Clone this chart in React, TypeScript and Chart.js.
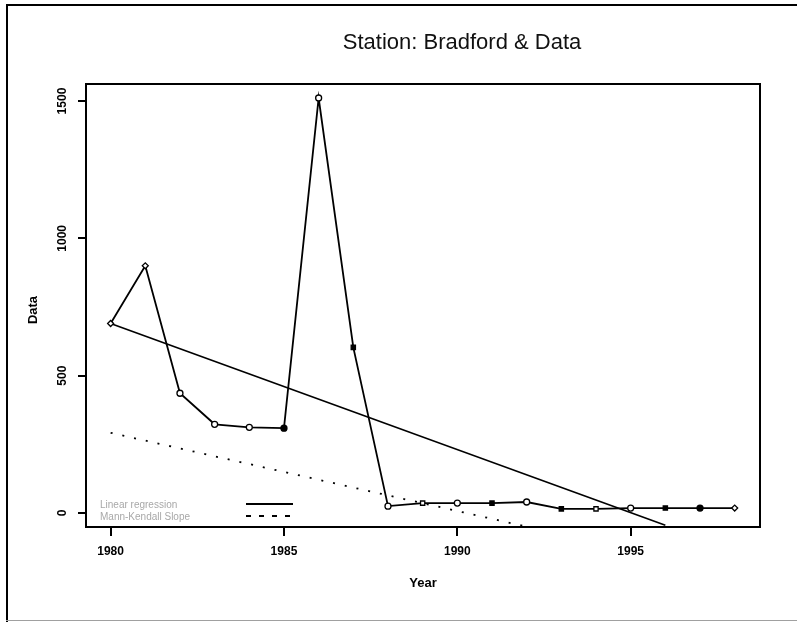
import React, { useEffect, useRef } from 'react';
import { Chart, registerables } from 'chart.js';

Chart.register(...registerables);

// ---- data ----
const years = [1980, 1981, 1982, 1983, 1984, 1985, 1986, 1987, 1988, 1989, 1990, 1991, 1992, 1993, 1994, 1995, 1996, 1997, 1998];
const values = [690, 900, 436, 323, 312, 309, 1511, 603, 25, 36, 36, 36, 40, 15, 15, 18, 18, 18, 18];
const markerShapes = ['rectRot', 'rectRot', 'circle', 'circle', 'circle', 'circle', 'circle', 'rect', 'circle', 'rect', 'circle', 'rect', 'circle', 'rect', 'rect', 'circle', 'rect', 'circle', 'rectRot'];
const markerFilled = [false, false, false, false, false, true, false, true, false, false, false, true, false, true, false, false, true, true, false];

const regressionYears = [1980, 1996];
const regressionValues = [690, -45];
const mannKendallYears = [1980, 1992.5];
const mannKendallValues = [292, -64];

const xTickValues = [1980, 1985, 1990, 1995];
const yTickValues = [0, 500, 1000, 1500];

const titleText = 'Station: Bradford & Data';
const xTitle = 'Year';
const yTitle = 'Data';
const legendLabels = ['Linear regression', 'Mann-Kendall Slope'];

const FONT = '"Liberation Sans", Arial, sans-serif';

const decorPlugin = {
  id: 'decor',
  afterDraw(chart: any) {
    const ctx = chart.ctx;
    const area = chart.chartArea;
    const yScale = chart.scales.y;
    ctx.save();
    // page frame
    ctx.fillStyle = '#000';
    ctx.fillRect(6, 4, 2, 618);
    ctx.fillRect(6, 4, 791, 2);
    ctx.fillStyle = '#a0a0a0';
    ctx.fillRect(6, 620, 791, 1);

    // plot box
    ctx.strokeStyle = '#000';
    ctx.lineWidth = 2;
    ctx.strokeRect(area.left, area.top, area.right - area.left, area.bottom - area.top);

    // title
    ctx.fillStyle = '#111';
    ctx.font = `22px ${FONT}`;
    ctx.textAlign = 'center';
    ctx.textBaseline = 'middle';
    ctx.fillText(titleText, 462, 43);

    // y tick labels (rotated)
    ctx.font = `bold 12px ${FONT}`;
    ctx.fillStyle = '#000';
    yTickValues.forEach((v) => {
      const py = yScale.getPixelForValue(v);
      ctx.save();
      ctx.translate(63, py);
      ctx.rotate(-Math.PI / 2);
      ctx.textAlign = 'center';
      ctx.textBaseline = 'middle';
      ctx.fillText(String(v), 0, 0);
      ctx.restore();
    });

    // axis titles
    ctx.font = `bold 13px ${FONT}`;
    ctx.textAlign = 'center';
    ctx.textBaseline = 'middle';
    ctx.fillText(xTitle, 423, 583);
    ctx.save();
    ctx.translate(33, 310);
    ctx.rotate(-Math.PI / 2);
    ctx.fillText(yTitle, 0, 0);
    ctx.restore();

    // legend
    ctx.font = `10px ${FONT}`;
    ctx.fillStyle = '#a8a8a8';
    ctx.textAlign = 'left';
    ctx.fillText(legendLabels[0], 100, 505);
    ctx.fillText(legendLabels[1], 100, 517);
    ctx.strokeStyle = '#000';
    ctx.lineWidth = 1.8;
    ctx.beginPath();
    ctx.moveTo(246, 504);
    ctx.lineTo(293, 504);
    ctx.stroke();
    ctx.setLineDash([5, 8]);
    ctx.beginPath();
    ctx.moveTo(246, 516);
    ctx.lineTo(293, 516);
    ctx.stroke();
    ctx.restore();
  },
};

export default function App() {
  const canvasRef = useRef<HTMLCanvasElement | null>(null);

  useEffect(() => {
    const canvas = canvasRef.current;
    if (!canvas) return;
    const chart = new Chart(canvas, {
      type: 'line',
      data: {
        datasets: [
          {
            label: 'Data',
            data: years.map((x, i) => ({ x, y: values[i] })),
            borderColor: '#000',
            borderWidth: 1.8,
            pointStyle: markerShapes as any,
            pointRadius: 3,
            pointBackgroundColor: markerFilled.map((f) => (f ? '#000' : '#fff')),
            pointBorderColor: '#000',
            pointBorderWidth: 1.3,
            tension: 0,
          },
          {
            label: legendLabels[0],
            data: regressionYears.map((x, i) => ({ x, y: regressionValues[i] })),
            borderColor: '#000',
            borderWidth: 1.6,
            pointRadius: 0,
          },
          {
            label: legendLabels[1],
            data: mannKendallYears.map((x, i) => ({ x, y: mannKendallValues[i] })),
            borderColor: '#000',
            borderWidth: 1.8,
            borderDash: [2, 10],
            pointRadius: 0,
          },
        ],
      },
      options: {
        responsive: false,
        animation: false,
        devicePixelRatio: 1,
        layout: { padding: { left: 0, right: 37, top: 84, bottom: 0 } },
        plugins: {
          legend: { display: false },
          title: { display: false },
          tooltip: { enabled: false },
        },
        scales: {
          x: {
            type: 'linear',
            min: 1979.29,
            max: 1998.73,
            afterBuildTicks: (s: any) => {
              s.ticks = xTickValues.map((v) => ({ value: v }));
            },
            afterFit: (s: any) => {
              s.height = 95;
            },
            border: { display: false },
            grid: { drawOnChartArea: false, drawTicks: true, tickLength: 9, color: '#000', lineWidth: 2 },
            ticks: {
              color: '#000',
              font: { family: FONT, size: 12, weight: 'bold' },
              padding: 8,
              maxRotation: 0,
              autoSkip: false,
              callback: (v: any) => String(v),
            },
          },
          y: {
            type: 'linear',
            min: -51,
            max: 1562,
            afterBuildTicks: (s: any) => {
              s.ticks = yTickValues.map((v) => ({ value: v }));
            },
            afterFit: (s: any) => {
              s.width = 86;
            },
            border: { display: false },
            grid: { drawOnChartArea: false, drawTicks: true, tickLength: 8, color: '#000', lineWidth: 2 },
            ticks: { display: false },
          },
        },
      } as any,
      plugins: [decorPlugin],
    });
    return () => chart.destroy();
  }, []);

  return (
    <div style={{ position: 'fixed', left: 0, top: 0, width: 797, height: 622, background: '#fff' }}>
      <canvas ref={canvasRef} width={797} height={622} style={{ display: 'block', width: 797, height: 622 }} />
    </div>
  );
}
